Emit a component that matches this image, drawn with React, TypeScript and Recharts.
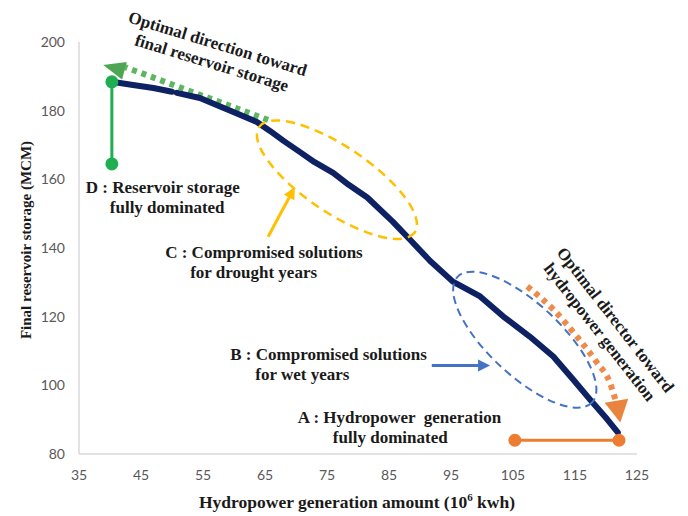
import React from "react";
import { ComposedChart, Line, XAxis, YAxis, ReferenceDot, Label } from "recharts";

// axis ticks
const X_TICKS = [35, 45, 55, 65, 75, 85, 95, 105, 115, 125];
const Y_TICKS = [80, 100, 120, 140, 160, 180, 200];

// Pareto front (hydropower, final storage), null = small gap
const FRONT_X = [40.3, 43.7, 47, 49.2, 50.0, 50.4, 50.8, 54.5, 57, 59.8, 63.7, 65.8, 68, 70.6, 73, 76.0, 78.5, 81.5, 85.6, 88.4, 91.6, 95.3, 99.7, 103.4, 107.7, 111.5, 114.7, 117.4, 120.2, 121.9];
const FRONT_Y = [188.4, 187.5, 186.6, 185.8, 185.5, null, 185.2, 183.7, 181.8, 179.7, 176.7, 174.1, 171.2, 168.0, 165.0, 161.9, 158.4, 154.7, 147.7, 142.4, 136.3, 130.2, 125.9, 120.1, 114.2, 108.4, 101.7, 95.9, 90.1, 86.3];

// extreme solutions
const D_X = [40.3, 40.3];
const D_Y = [188.4, 164.5];
const A_X = [105.3, 122.1];
const A_Y = [84, 84];

// direction arrows
const GREEN_X = [65.5, 42.4];
const GREEN_Y = [177.3, 192.7];
const ORANGE_X = [107.3, 111.5, 115.3, 118.5, 120.6, 121.5];
const ORANGE_Y = [128.8, 122.1, 114.2, 106.7, 100.9, 95.9];
const YELLOW_X = [65.5, 69.4];
const YELLOW_Y = [143.3, 156.4];
const BLUE_X = [91.9, 100.2];
const BLUE_Y = [105.8, 105.8];

const zip = (xs: number[], ys: (number | null)[]) => xs.map((x, i) => ({ x, y: ys[i] }));

const serif = "'Liberation Serif', 'Times New Roman', serif";
const TXT = "#1a1a1a";

const Head = ({ cx, cy, angle, len, wid, color }: any) => (
  <polygon
    points={`0,0 ${-len},${-wid / 2} ${-len},${wid / 2}`}
    fill={color}
    transform={`translate(${cx} ${cy}) rotate(${angle})`}
  />
);

const Ell = ({ cx, cy, rx, ry, angle, color, dash, w }: any) => (
  <ellipse
    cx={cx}
    cy={cy}
    rx={rx}
    ry={ry}
    fill="none"
    stroke={color}
    strokeWidth={w}
    strokeDasharray={dash}
    transform={`rotate(${angle} ${cx} ${cy})`}
  />
);

const TwoLines = ({ cx, cy, l1, l2, dx2, dy2 }: any) => (
  <text fontFamily={serif} fontWeight="bold" fontSize={17} fill={TXT} style={{ whiteSpace: "pre" }}>
    <tspan x={cx} y={cy}>{l1}</tspan>
    <tspan x={cx + dx2} y={cy + dy2}>{l2}</tspan>
  </text>
);

const Rotated = ({ cx, cy, angle, l1, l2 }: any) => (
  <g transform={`translate(${cx} ${cy}) rotate(${angle})`}>
    <text fontFamily={serif} fontWeight="bold" fontSize={17} fill={TXT} textAnchor="middle">
      <tspan x={0} y={-4}>{l1}</tspan>
      <tspan x={0} y={16}>{l2}</tspan>
    </text>
  </g>
);

export default function App() {
  return (
    <div style={{ position: "absolute", left: 0, top: 0, background: "#fff" }}>
      <ComposedChart width={688} height={516} margin={{ top: 42, right: 51, bottom: 0, left: 0 }}>
        <XAxis
          dataKey="x"
          type="number"
          domain={[35, 125]}
          ticks={X_TICKS}
          interval={0}
          height={62}
          tickLine={false}
          tickSize={0}
          tickMargin={16}
          axisLine={{ stroke: "#d9d9d9", strokeWidth: 1.5 }}
          tick={{ fill: "#595959", fontSize: 14, fontFamily: "Lato, sans-serif" }}
        >
          <Label
            content={({ viewBox }: any) => (
              <text
                x={viewBox.x + viewBox.width / 2 - 1}
                y={viewBox.y + 54}
                textAnchor="middle"
                fontFamily={serif}
                fontWeight="bold"
                fontSize={17.5}
                fill={TXT}
              >
                Hydropower generation amount (10
                <tspan fontSize={11} dy={-7}>6</tspan>
                <tspan dy={7}> kwh)</tspan>
              </text>
            )}
          />
        </XAxis>
        <YAxis
          type="number"
          domain={[80, 200]}
          ticks={Y_TICKS}
          interval={0}
          width={79}
          tickLine={false}
          tickSize={0}
          tickMargin={14}
          axisLine={{ stroke: "#d9d9d9", strokeWidth: 1.5 }}
          tick={{ fill: "#595959", fontSize: 14, fontFamily: "Lato, sans-serif" }}
        >
          <Label
            content={({ viewBox }: any) => {
              const x = 31;
              const y = viewBox.y + viewBox.height / 2 - 8;
              return (
                <text
                  x={x}
                  y={y}
                  transform={`rotate(-90 ${x} ${y})`}
                  textAnchor="middle"
                  fontFamily={serif}
                  fontWeight="bold"
                  fontSize={15}
                  fill={TXT}
                >
                  Final reservoir storage (MCM)
                </text>
              );
            }}
          />
        </YAxis>

        {/* ellipses around compromise regions */}
        <ReferenceDot x={76.6} y={159.9} ifOverflow="visible"
          shape={(p: any) => <Ell cx={p.cx} cy={p.cy} rx={94} ry={33} angle={34} color="#FFC000" dash="9 6" w={2.5} />} />
        <ReferenceDot x={106.9} y={113.3} ifOverflow="visible"
          shape={(p: any) => <Ell cx={p.cx} cy={p.cy} rx={92} ry={36} angle={43} color="#4472C4" dash="8 5" w={2} />} />

        {/* direction arrows */}
        <Line data={zip(GREEN_X, GREEN_Y)} dataKey="y" stroke="#5DB761" strokeWidth={6} strokeDasharray="5 5" dot={false} isAnimationActive={false} />
        <Line data={zip(ORANGE_X, ORANGE_Y)} dataKey="y" type="monotone" stroke="#F08A4B" strokeWidth={6} strokeDasharray="5 5" dot={false} isAnimationActive={false} />
        <Line data={zip(YELLOW_X, YELLOW_Y)} dataKey="y" stroke="#FFC000" strokeWidth={3} dot={false} isAnimationActive={false} />
        <Line data={zip(BLUE_X, BLUE_Y)} dataKey="y" stroke="#4472C4" strokeWidth={3} dot={false} isAnimationActive={false} />
        <ReferenceDot x={38.9} y={193.3} ifOverflow="visible"
          shape={(p: any) => <Head cx={p.cx} cy={p.cy} angle={195} len={22} wid={18} color="#4EA654" />} />
        <ReferenceDot x={122.3} y={89.2} ifOverflow="visible"
          shape={(p: any) => <Head cx={p.cx} cy={p.cy} angle={80} len={22} wid={24} color="#E8843E" />} />
        <ReferenceDot x={69.8} y={157.8} ifOverflow="visible"
          shape={(p: any) => <Head cx={p.cx} cy={p.cy} angle={-62} len={12} wid={12} color="#FFC000" />} />
        <ReferenceDot x={101.3} y={105.8} ifOverflow="visible"
          shape={(p: any) => <Head cx={p.cx} cy={p.cy} angle={0} len={12} wid={12} color="#4472C4" />} />

        {/* Pareto front */}
        <Line data={zip(FRONT_X, FRONT_Y)} dataKey="y" stroke="#0D2163" strokeWidth={6} strokeLinecap="round" strokeLinejoin="round" dot={false} isAnimationActive={false} />

        {/* extreme solutions D and A */}
        <Line data={zip(D_X, D_Y)} dataKey="y" stroke="#1FAE52" strokeWidth={3} dot={{ r: 5, fill: "#1FAE52", stroke: "#1FAE52" }} isAnimationActive={false} />
        <Line data={zip(A_X, A_Y)} dataKey="y" stroke="#ED7D31" strokeWidth={3} dot={{ r: 5, fill: "#ED7D31", stroke: "#ED7D31" }} isAnimationActive={false} />

        {/* annotation texts */}
        <ReferenceDot x={56.9} y={196.8} ifOverflow="visible"
          shape={(p: any) => <Rotated cx={p.cx} cy={p.cy} angle={17} l1="Optimal direction toward" l2="final reservoir storage" />} />
        <ReferenceDot x={120.3} y={117.4} ifOverflow="visible"
          shape={(p: any) => <Rotated cx={p.cx} cy={p.cy} angle={52} l1="Optimal director toward" l2="hydropower generation" />} />
        <ReferenceDot x={36.1} y={156.1} ifOverflow="visible"
          shape={(p: any) => <TwoLines cx={p.cx} cy={p.cy} dx2={24} dy2={20} l1="D : Reservoir storage" l2="fully dominated" />} />
        <ReferenceDot x={48.9} y={137.2} ifOverflow="visible"
          shape={(p: any) => <TwoLines cx={p.cx} cy={p.cy} dx2={25} dy2={20} l1="C : Compromised solutions" l2="for drought years" />} />
        <ReferenceDot x={59.4} y={107.3} ifOverflow="visible"
          shape={(p: any) => <TwoLines cx={p.cx} cy={p.cy} dx2={25} dy2={20} l1="B : Compromised solutions" l2="for wet years" />} />
        <ReferenceDot x={70.3} y={88.95} ifOverflow="visible"
          shape={(p: any) => <TwoLines cx={p.cx} cy={p.cy} dx2={35} dy2={20} l1="A : Hydropower  generation" l2="fully dominated" />} />
      </ComposedChart>
    </div>
  );
}
